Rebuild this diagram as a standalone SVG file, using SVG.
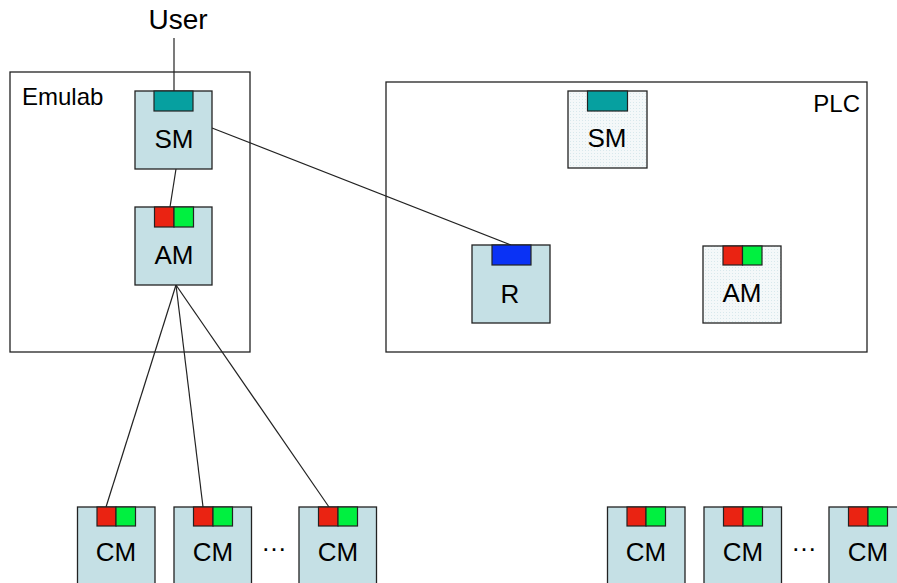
<svg xmlns="http://www.w3.org/2000/svg" width="897" height="583" viewBox="0 0 897 583">
<defs>
<pattern id="dots" width="3" height="3" patternUnits="userSpaceOnUse">
<rect width="3" height="3" fill="#f4f8f9"/>
<rect width="1" height="1" fill="#d8e8ec"/>
</pattern>
</defs>
<style>
text{font-family:"Liberation Sans",Arial,sans-serif;fill:#000}
.frame{fill:#fff;stroke:#222;stroke-width:1.3}
.box{fill:#c5e0e5;stroke:#222;stroke-width:1.3}
.pale{fill:url(#dots);stroke:#222;stroke-width:1.3}
.teal{fill:#06a0a0;stroke:#222;stroke-width:1.2}
.red{fill:#ea2312;stroke:#222;stroke-width:1.2}
.grn{fill:#00f040;stroke:#222;stroke-width:1.2}
.blue{fill:#0a32f5;stroke:#222;stroke-width:1.2}
.lbl{font-size:26px;text-anchor:middle}
.ell{font-size:26px;text-anchor:middle}
.conn line{stroke:#222;stroke-width:1.2}
</style>
<rect width="897" height="583" fill="#fff"/>
<g id="emulab"><rect class="frame" x="10" y="72" width="240" height="280"/><text x="22" y="105" font-size="24">Emulab</text></g>
<g id="plc"><rect class="frame" x="386" y="82" width="481" height="270"/><text x="860" y="112" font-size="24" text-anchor="end">PLC</text></g>
<g id="user"><text x="178" y="29" font-size="28" text-anchor="middle">User</text></g>
<g class="conn" id="connectors">
<line x1="174" y1="38" x2="174" y2="91"/>
<line x1="176" y1="169" x2="170" y2="207"/>
<line x1="212" y1="128" x2="511" y2="245"/>
<line x1="176" y1="285" x2="106" y2="507"/>
<line x1="176" y1="285" x2="203" y2="507"/>
<line x1="176" y1="285" x2="329" y2="507"/>
</g>
<g id="sm-emulab"><rect class="box" x="135" y="91" width="77" height="78"/><rect class="teal" x="154" y="91" width="39" height="20"/><text class="lbl" x="174" y="148">SM</text></g>
<g id="am-emulab"><rect class="box" x="135" y="207" width="77" height="78"/><rect class="red" x="154.5" y="207" width="19.5" height="20"/><rect class="grn" x="174" y="207" width="19.5" height="20"/><text class="lbl" x="174" y="264">AM</text></g>
<g id="sm-plc"><rect class="pale" x="568" y="91" width="79" height="77"/><rect class="teal" x="587.5" y="91" width="40" height="20"/><text class="lbl" x="607" y="147">SM</text></g>
<g id="r"><rect class="box" x="472" y="245" width="78" height="78"/><rect class="blue" x="492" y="245" width="39" height="20"/><text class="lbl" x="510" y="303">R</text></g>
<g id="am-plc"><rect class="pale" x="703" y="246" width="78" height="77"/><rect class="red" x="723" y="246" width="19.5" height="19"/><rect class="grn" x="742.5" y="246" width="19.5" height="19"/><text class="lbl" x="742" y="302">AM</text></g>
<g id="cm1"><rect class="box" x="77.5" y="507" width="77.5" height="80"/><rect class="red" x="97" y="507" width="19" height="19"/><rect class="grn" x="116" y="507" width="19.5" height="19"/><text class="lbl" x="116" y="561">CM</text></g>
<g id="cm2"><rect class="box" x="174" y="507" width="77.5" height="80"/><rect class="red" x="193.5" y="507" width="19.5" height="19"/><rect class="grn" x="213" y="507" width="19.5" height="19"/><text class="lbl" x="213" y="561">CM</text></g>
<g id="dots1"><text class="ell" x="274" y="551">…</text></g>
<g id="cm3"><rect class="box" x="299" y="507" width="77.5" height="80"/><rect class="red" x="318.5" y="507" width="19.5" height="19"/><rect class="grn" x="338" y="507" width="19.5" height="19"/><text class="lbl" x="338" y="561">CM</text></g>
<g id="cm4"><rect class="box" x="607.5" y="507" width="77.5" height="80"/><rect class="red" x="627" y="507" width="19" height="19"/><rect class="grn" x="646" y="507" width="19.5" height="19"/><text class="lbl" x="646" y="561">CM</text></g>
<g id="cm5"><rect class="box" x="704" y="507" width="77.5" height="80"/><rect class="red" x="723.5" y="507" width="19.5" height="19"/><rect class="grn" x="743" y="507" width="19.5" height="19"/><text class="lbl" x="743" y="561">CM</text></g>
<g id="dots2"><text class="ell" x="804" y="551">…</text></g>
<g id="cm6"><rect class="box" x="829" y="507" width="77.5" height="80"/><rect class="red" x="848.5" y="507" width="19.5" height="19"/><rect class="grn" x="868" y="507" width="19.5" height="19"/><text class="lbl" x="868" y="561">CM</text></g>
</svg>
